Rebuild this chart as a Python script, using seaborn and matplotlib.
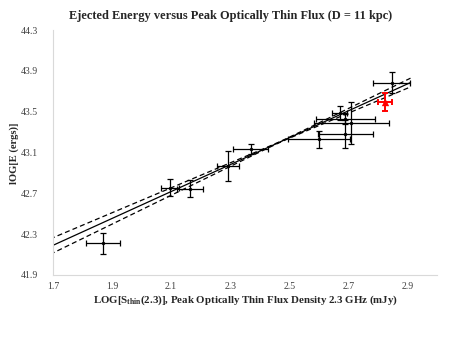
import numpy as np
import pandas as pd
import matplotlib
matplotlib.use("Agg")
import matplotlib.pyplot as plt
import seaborn as sns

# ---- data ----
log_flux = [1.868, 2.095, 2.163, 2.292, 2.369, 2.600, 2.689, 2.710, 2.690, 2.670, 2.846]
log_energy = [42.21, 42.756, 42.746, 42.97, 43.13, 43.23, 43.28, 43.39, 43.43, 43.49, 43.786]
flux_err = [0.058, 0.031, 0.044, 0.038, 0.059, 0.105, 0.093, 0.126, 0.10, 0.024, 0.063]
energy_err = [0.10, 0.081, 0.085, 0.15, 0.049, 0.086, 0.138, 0.21, 0.05, 0.068, 0.10]

red_flux = [2.825]
red_energy = [43.60]
red_flux_err = [0.024]
red_energy_err = [0.088]

# fitted line and confidence band
fit_slope = 1.319
fit_intercept = 39.948
band_center = 2.47
band_growth = 0.097
band_floor = 0.004
fit_range = [1.69, 2.91]

xticks = [1.7, 1.9, 2.1, 2.3, 2.5, 2.7, 2.9]
yticks = [41.9, 42.3, 42.7, 43.1, 43.5, 43.9, 44.3]

title = "Ejected Energy versus Peak Optically Thin Flux (D = 11 kpc)"
xlabel = r"LOG[S$_{\mathbf{thin}}$(2.3)], Peak Optically Thin Flux Density 2.3 GHz (mJy)"
ylabel = "lOG[E (ergs)]"

sns.set_theme(style="white")
plt.rcParams['font.family'] = ['Liberation Serif', 'DejaVu Serif']
plt.rcParams['mathtext.fontset'] = 'custom'
plt.rcParams['mathtext.rm'] = 'Liberation Serif'
plt.rcParams['mathtext.bf'] = 'Liberation Serif:bold'

fig = plt.figure(figsize=(4.63, 3.39), dpi=100)
ax = fig.add_axes([0.1145, 0.189, 0.8295, 0.722])

# fit lines
fx = np.linspace(fit_range[0], fit_range[1], 200)
fy = fit_intercept + fit_slope * fx
half = np.sqrt(band_floor**2 + (band_growth * (fx - band_center))**2)
fit_df = pd.DataFrame({"x": fx, "fit": fy, "upper": fy + half, "lower": fy - half})
sns.lineplot(data=fit_df, x="x", y="fit", ax=ax, color="black", lw=0.9)
sns.lineplot(data=fit_df, x="x", y="upper", ax=ax, color="black", lw=0.9)
ax.lines[-1].set_linestyle((0, (4, 2.5)))
sns.lineplot(data=fit_df, x="x", y="lower", ax=ax, color="black", lw=0.9)
ax.lines[-1].set_linestyle((0, (4, 2.5)))

# data points
ax.errorbar(log_flux, log_energy, xerr=flux_err, yerr=energy_err, fmt="none",
            ecolor="black", elinewidth=0.9, capsize=2.2, capthick=0.9)
sns.scatterplot(x=log_flux, y=log_energy, ax=ax, color="black", s=6, edgecolor="black", linewidth=0)

ax.errorbar(red_flux, red_energy, xerr=red_flux_err, yerr=red_energy_err, fmt="none",
            ecolor="red", elinewidth=1.4, capsize=2.5, capthick=1.4)
sns.scatterplot(x=red_flux, y=red_energy, ax=ax, color="red", marker="^", s=28,
                edgecolor="red", linewidth=0)

ax.set_xlim(1.7, 3.0)
ax.set_ylim(41.9, 44.3)
ax.set_xticks(xticks)
ax.set_yticks(yticks)
ax.set_xticklabels([f"{v:.1f}" for v in xticks])
ax.set_yticklabels([f"{v:.1f}" for v in yticks])
ax.tick_params(axis="both", length=0, labelsize=7.0, colors="#404040")
ax.tick_params(axis="y", pad=11)
ax.tick_params(axis="x", pad=5)
for s in ["top", "right"]:
    ax.spines[s].set_visible(False)
for s in ["left", "bottom"]:
    ax.spines[s].set_color("#d9d9d9")
    ax.spines[s].set_linewidth(0.8)
ax.grid(False)

ax.set_xlabel(xlabel, fontsize=7.8, fontweight="bold", labelpad=2)
ax.set_ylabel(ylabel, fontsize=7.6, fontweight="bold")
ax.yaxis.set_label_coords(-0.088, 0.496)
fig.text(0.499, 0.953, title, ha="center", va="center", fontsize=8.9, fontweight="bold")

fig.savefig("out.png", dpi=100)
